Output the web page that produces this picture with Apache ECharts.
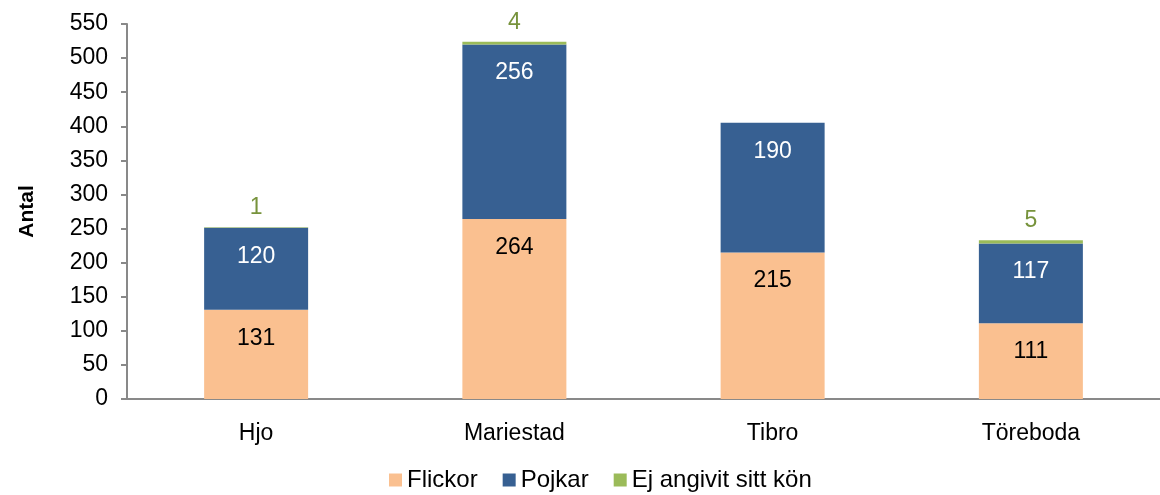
<!DOCTYPE html>
<html>
<head>
<meta charset="utf-8">
<script src="https://cdn.jsdelivr.net/npm/echarts@6/dist/echarts.min.js"></script>
<style>
  html, body { margin: 0; padding: 0; background: #fff; }
  #chart { width: 1160px; height: 495px; }
</style>
</head>
<body>
<div id="chart"></div>
<script>
const categories = ['Hjo', 'Mariestad', 'Tibro', 'Töreboda']
const flickor = [131, 264, 215, 111]
const pojkar = [120, 256, 190, 117]
const ejAngivit = [1, 4, 0, 5]
const yTicks = { min: 0, max: 550, interval: 50 }

const font = 'Liberation Sans, Arial, sans-serif'
const axisGray = '#898989'
const fs = 23

const chart = echarts.init(document.getElementById('chart'))

const option = {
  backgroundColor: '#fff',
  animation: false,
  textStyle: { fontFamily: font },
  grid: { left: 127, top: 24, width: 1042, bottom: 96 },
  legend: {
    left: 384,
    top: 463,
    itemWidth: 13,
    itemHeight: 13,
    itemGap: 25,
    icon: 'rect',
    textStyle: { fontSize: 24, color: '#000', fontFamily: font },
    data: ['Flickor', 'Pojkar', 'Ej angivit sitt kön']
  },
  xAxis: {
    type: 'category',
    data: categories,
    axisLine: { lineStyle: { color: axisGray, width: 2 } },
    axisTick: { length: 6, lineStyle: { color: axisGray, width: 2 } },
    axisLabel: { fontSize: fs, color: '#000', margin: 23, fontFamily: font }
  },
  yAxis: {
    type: 'value',
    min: yTicks.min,
    max: yTicks.max,
    interval: yTicks.interval,
    name: 'Antal',
    nameLocation: 'middle',
    nameRotate: 90,
    nameGap: 89,
    nameTextStyle: { fontSize: 21, fontWeight: 'bold', color: '#000', fontFamily: font },
    axisLine: { show: true, lineStyle: { color: axisGray, width: 2 } },
    axisTick: { show: true, length: 6, lineStyle: { color: axisGray, width: 2 } },
    splitLine: { show: false },
    axisLabel: { fontSize: fs, color: '#000', margin: 19, fontFamily: font }
  },
  series: [
    {
      name: 'Flickor',
      type: 'bar',
      stack: 'total',
      barWidth: 104,
      data: flickor,
      itemStyle: { color: '#FAC090' },
      label: {
        show: true, position: 'insideTop', distance: 17,
        fontSize: fs, color: '#000', fontFamily: font
      }
    },
    {
      name: 'Pojkar',
      type: 'bar',
      stack: 'total',
      barWidth: 104,
      data: pojkar,
      itemStyle: { color: '#376092' },
      label: {
        show: true, position: 'insideTop', distance: 17,
        fontSize: fs, color: '#fff', fontFamily: font
      }
    },
    {
      name: 'Ej angivit sitt kön',
      type: 'bar',
      stack: 'total',
      barWidth: 104,
      data: ejAngivit,
      itemStyle: { color: '#9BBB59' },
      label: {
        show: true, position: 'top', distance: 8,
        fontSize: fs, color: '#77933C', fontFamily: font,
        formatter: p => (p.value ? p.value : '')
      }
    }
  ]
}

chart.setOption(option)
</script>
</body>
</html>
